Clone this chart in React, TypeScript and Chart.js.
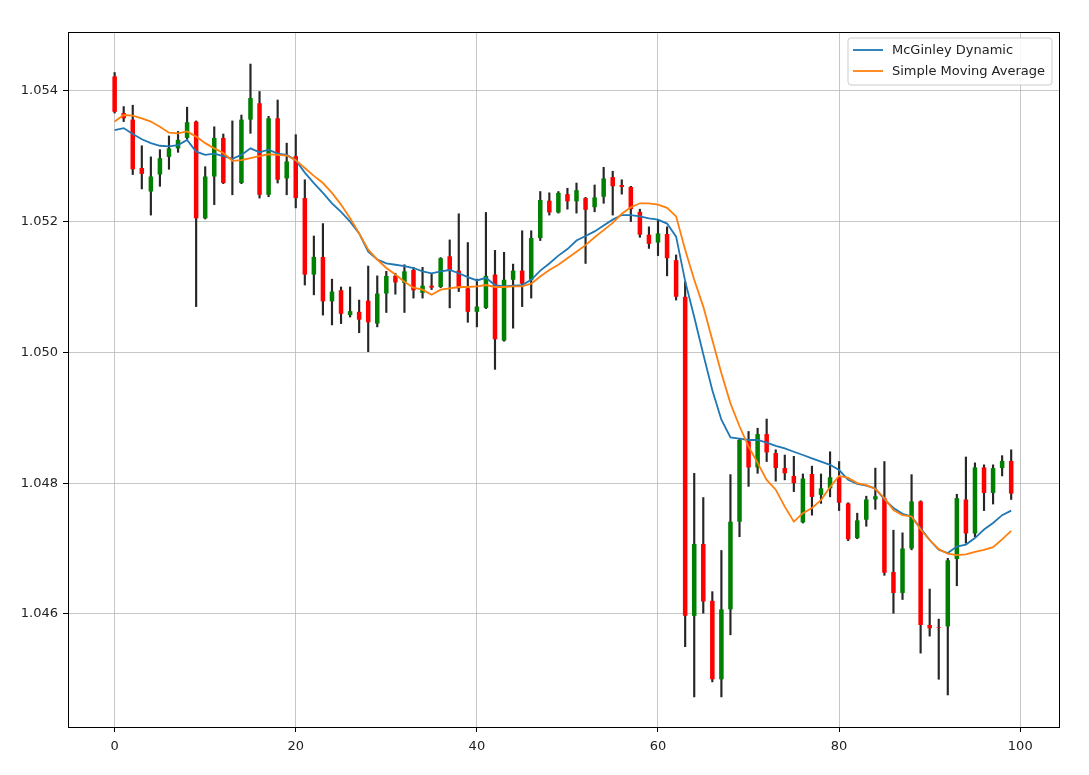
import React, { useEffect, useRef } from 'react';
import { Chart, registerables } from 'chart.js';

Chart.register(...registerables);

// Candle data (price), index 0..99
const opens = [
  1.05422, 1.05366, 1.05356, 1.05282, 1.05246, 1.05272, 1.05299, 1.05312, 1.05328, 1.05353,
  1.05205, 1.05269, 1.05328, 1.05298, 1.05259, 1.05356, 1.05381, 1.05241, 1.05358, 1.05266,
  1.05300, 1.05236, 1.05119, 1.05146, 1.05078, 1.05095, 1.05057, 1.05062, 1.05079, 1.05044,
  1.05090, 1.05117, 1.05106, 1.05126, 1.05091, 1.05102, 1.05100, 1.05147, 1.05125, 1.05098,
  1.05062, 1.05068, 1.05119, 1.05018, 1.05111, 1.05125, 1.05111, 1.05175, 1.05232, 1.05214,
  1.05242, 1.05231, 1.05236, 1.05222, 1.05238, 1.05268, 1.05256, 1.05253, 1.05215, 1.05180,
  1.05168, 1.05181, 1.05141, 1.05085, 1.04597, 1.04707, 1.04620, 1.04500, 1.04607, 1.04741,
  1.04864, 1.04824, 1.04875, 1.04846, 1.04823, 1.04811, 1.04740, 1.04814, 1.04782, 1.04792,
  1.04809, 1.04769, 1.04716, 1.04744, 1.04775, 1.04777, 1.04664, 1.04632, 1.04700, 1.04772,
  1.04583, 1.04580, 1.04581, 1.04684, 1.04775, 1.04723, 1.04824, 1.04785, 1.04823, 1.04834,
];
const closes = [
  1.05368, 1.05358, 1.05280, 1.05273, 1.05269, 1.05297, 1.05312, 1.05325, 1.05352, 1.05205,
  1.05269, 1.05328, 1.05259, 1.05297, 1.05356, 1.05389, 1.05241, 1.05358, 1.05264, 1.05292,
  1.05236, 1.05119, 1.05146, 1.05078, 1.05093, 1.05059, 1.05063, 1.05050, 1.05046, 1.05090,
  1.05117, 1.05107, 1.05124, 1.05095, 1.05102, 1.05099, 1.05144, 1.05125, 1.05098, 1.05062,
  1.05070, 1.05117, 1.05020, 1.05111, 1.05125, 1.05105, 1.05175, 1.05233, 1.05214, 1.05244,
  1.05231, 1.05248, 1.05218, 1.05237, 1.05266, 1.05254, 1.05253, 1.05219, 1.05180, 1.05166,
  1.05182, 1.05144, 1.05085, 1.04597, 1.04707, 1.04619, 1.04500, 1.04607, 1.04741, 1.04866,
  1.04824, 1.04875, 1.04847, 1.04823, 1.04815, 1.04800, 1.04807, 1.04779, 1.04792, 1.04809,
  1.04770, 1.04714, 1.04743, 1.04775, 1.04780, 1.04663, 1.04632, 1.04700, 1.04772, 1.04583,
  1.04578, 1.04579, 1.04682, 1.04777, 1.04723, 1.04824, 1.04785, 1.04823, 1.04834, 1.04784,
];
const highs = [
  1.05428, 1.05376, 1.05378, 1.05316, 1.05299, 1.05310, 1.05331, 1.05338, 1.05375, 1.05354,
  1.05284, 1.05345, 1.05334, 1.05354, 1.05363, 1.05441, 1.05399, 1.05361, 1.05386, 1.05320,
  1.05333, 1.05264, 1.05178, 1.05197, 1.05112, 1.05100, 1.05100, 1.05080, 1.05132, 1.05117,
  1.05124, 1.05121, 1.05134, 1.05130, 1.05130, 1.05121, 1.05145, 1.05172, 1.05212, 1.05168,
  1.05112, 1.05214, 1.05156, 1.05153, 1.05135, 1.05186, 1.05186, 1.05246, 1.05244, 1.05246,
  1.05251, 1.05259, 1.05237, 1.05256, 1.05283, 1.05277, 1.05264, 1.05254, 1.05219, 1.05192,
  1.05202, 1.05192, 1.05149, 1.05108, 1.04815, 1.04778, 1.04634, 1.04697, 1.04813, 1.04867,
  1.04879, 1.04884, 1.04898, 1.04851, 1.04843, 1.04841, 1.04814, 1.04826, 1.04814, 1.04848,
  1.04833, 1.04770, 1.04754, 1.04780, 1.04823, 1.04833, 1.04728, 1.04724, 1.04813, 1.04773,
  1.04638, 1.04592, 1.04685, 1.04783, 1.04840, 1.04831, 1.04828, 1.04828, 1.04842, 1.04851,
];
const lows = [
  1.05366, 1.05353, 1.05272, 1.05250, 1.05210, 1.05254, 1.05280, 1.05306, 1.05326, 1.05070,
  1.05204, 1.05226, 1.05258, 1.05241, 1.05258, 1.05335, 1.05236, 1.05238, 1.05259, 1.05241,
  1.05221, 1.05103, 1.05088, 1.05057, 1.05042, 1.05044, 1.05054, 1.05030, 1.05001, 1.05039,
  1.05061, 1.05089, 1.05061, 1.05083, 1.05083, 1.05096, 1.05099, 1.05068, 1.05093, 1.05046,
  1.05039, 1.05067, 1.04974, 1.05017, 1.05037, 1.05070, 1.05083, 1.05171, 1.05210, 1.05213,
  1.05219, 1.05213, 1.05136, 1.05215, 1.05228, 1.05210, 1.05242, 1.05200, 1.05176, 1.05159,
  1.05148, 1.05117, 1.05080, 1.04550, 1.04473, 1.04601, 1.04496, 1.04473, 1.04568, 1.04718,
  1.04795, 1.04815, 1.04833, 1.04803, 1.04805, 1.04787, 1.04739, 1.04751, 1.04769, 1.04779,
  1.04758, 1.04712, 1.04715, 1.04734, 1.04760, 1.04659, 1.04601, 1.04622, 1.04698, 1.04540,
  1.04566, 1.04500, 1.04476, 1.04643, 1.04708, 1.04718, 1.04758, 1.04768, 1.04811, 1.04775,
];

const mcginley = [
  1.05340, 1.05343, 1.05334, 1.05326, 1.05320, 1.05316, 1.05315, 1.05317, 1.05325, 1.05307,
  1.05302, 1.05304, 1.05300, 1.05296, 1.05302, 1.05312, 1.05306, 1.05310, 1.05304, 1.05302,
  1.05294, 1.05275, 1.05259, 1.05244, 1.05228, 1.05215, 1.05200, 1.05182, 1.05154, 1.05142,
  1.05136, 1.05134, 1.05132, 1.05129, 1.05124, 1.05121, 1.05124, 1.05126, 1.05121, 1.05115,
  1.05110, 1.05114, 1.05103, 1.05101, 1.05102, 1.05103, 1.05111, 1.05125, 1.05136, 1.05148,
  1.05158, 1.05171, 1.05178, 1.05185, 1.05194, 1.05203, 1.05210, 1.05210, 1.05208, 1.05205,
  1.05203, 1.05197, 1.05177, 1.05109, 1.05054, 1.04997, 1.04942, 1.04897, 1.04870, 1.04868,
  1.04866, 1.04866, 1.04862, 1.04857, 1.04853, 1.04848, 1.04843, 1.04838, 1.04833, 1.04828,
  1.04820, 1.04805, 1.04799, 1.04796, 1.04792, 1.04775, 1.04762, 1.04753, 1.04749, 1.04731,
  1.04713, 1.04698, 1.04693, 1.04703, 1.04706, 1.04716, 1.04729, 1.04739, 1.04751, 1.04758,
];
const sma = [
  1.05353, 1.05363, 1.05362, 1.05358, 1.05353, 1.05345, 1.05336, 1.05335, 1.05338, 1.05330,
  1.05320, 1.05312, 1.05305, 1.05293, 1.05294, 1.05297, 1.05300, 1.05303, 1.05302, 1.05301,
  1.05294, 1.05282, 1.05270, 1.05259, 1.05244, 1.05226, 1.05205, 1.05182, 1.05157, 1.05142,
  1.05129, 1.05119, 1.05108, 1.05099, 1.05096, 1.05088, 1.05096, 1.05098, 1.05100, 1.05100,
  1.05101, 1.05103, 1.05100, 1.05100, 1.05101, 1.05101, 1.05105, 1.05116, 1.05126, 1.05134,
  1.05144, 1.05154, 1.05164, 1.05176, 1.05187, 1.05198, 1.05212, 1.05222, 1.05228, 1.05228,
  1.05226, 1.05221, 1.05208, 1.05157, 1.05111, 1.05070, 1.05019, 1.04968, 1.04922, 1.04887,
  1.04856, 1.04831, 1.04805, 1.04790, 1.04764, 1.04741, 1.04754, 1.04762, 1.04774, 1.04794,
  1.04811, 1.04808, 1.04800, 1.04797, 1.04791, 1.04777, 1.04759, 1.04751, 1.04749, 1.04729,
  1.04713, 1.04699, 1.04692, 1.04690, 1.04691, 1.04695, 1.04698, 1.04702, 1.04714, 1.04727,
];

const xTicksStep = 20;
const yTicksStep = 0.002;
const seriesLabels = ['McGinley Dynamic', 'Simple Moving Average'];

const FONT = '"DejaVu Sans", sans-serif';

const framePlugin = {
  id: 'frame',
  afterDatasetsDraw(chart: any) {
    const { ctx, chartArea: a } = chart;
    ctx.save();
    ctx.strokeStyle = '#000';
    ctx.lineWidth = 1;
    ctx.strokeRect(Math.round(a.left) + 0.5, Math.round(a.top) + 0.5,
      Math.round(a.right - a.left), Math.round(a.bottom - a.top));
    ctx.restore();
  },
};

const legendPlugin = {
  id: 'boxLegend',
  afterDraw(chart: any) {
    const { ctx, chartArea: a } = chart;
    const items = chart.data.datasets.filter((d: any) => d.type === 'line');
    ctx.save();
    ctx.font = `13px ${FONT}`;
    const tw = Math.max(...items.map((d: any) => ctx.measureText(d.label).width));
    const rowH = 21;
    const w = 5 + 30 + 9 + tw + 7;
    const h = 12 + rowH * (items.length - 1) + 14;
    const x = a.right - 7 - w;
    const y = a.top + 6;
    const r = 3;
    ctx.beginPath();
    ctx.moveTo(x + r, y);
    ctx.lineTo(x + w - r, y);
    ctx.arcTo(x + w, y, x + w, y + r, r);
    ctx.lineTo(x + w, y + h - r);
    ctx.arcTo(x + w, y + h, x + w - r, y + h, r);
    ctx.lineTo(x + r, y + h);
    ctx.arcTo(x, y + h, x, y + h - r, r);
    ctx.lineTo(x, y + r);
    ctx.arcTo(x, y, x + r, y, r);
    ctx.closePath();
    ctx.fillStyle = 'rgba(255,255,255,0.85)';
    ctx.fill();
    ctx.strokeStyle = '#cccccc';
    ctx.lineWidth = 1;
    ctx.stroke();
    items.forEach((d: any, i: number) => {
      const cy = y + 12 + i * rowH;
      ctx.beginPath();
      ctx.moveTo(x + 5, cy);
      ctx.lineTo(x + 35, cy);
      ctx.strokeStyle = d.borderColor;
      ctx.lineWidth = 1.8;
      ctx.stroke();
      ctx.fillStyle = '#222';
      ctx.textBaseline = 'middle';
      ctx.textAlign = 'left';
      ctx.fillText(d.label, x + 44, cy + 1);
    });
    ctx.restore();
  },
};

export default function App() {
  const ref = useRef<HTMLCanvasElement | null>(null);

  useEffect(() => {
    if (!ref.current) return;
    const idx = opens.map((_, i) => i);
    const bodyColors = idx.map((i) => (closes[i] >= opens[i] ? '#008000' : '#ff0000'));
    const grid = {
      color: '#b8b8b8',
      lineWidth: 0.8,
      tickColor: '#000',
      tickLength: 5,
      tickWidth: 1,
      offset: false,
      drawTicks: true,
    };
    const chart = new Chart(ref.current, {
      type: 'bar',
      data: {
        datasets: [
          {
            type: 'line',
            label: seriesLabels[0],
            data: mcginley.map((v, i) => ({ x: i, y: v })),
            borderColor: '#1f77b4',
            backgroundColor: '#1f77b4',
            borderWidth: 1.8,
            pointRadius: 0,
            tension: 0,
            order: 1,
          },
          {
            type: 'line',
            label: seriesLabels[1],
            data: sma.map((v, i) => ({ x: i, y: v })),
            borderColor: '#ff7f0e',
            backgroundColor: '#ff7f0e',
            borderWidth: 1.8,
            pointRadius: 0,
            tension: 0,
            order: 0,
          },
          {
            type: 'bar',
            label: 'body',
            data: idx.map((i) => ({ x: i, y: [opens[i], closes[i]] })),
            backgroundColor: bodyColors,
            borderWidth: 0,
            grouped: false,
            categoryPercentage: 1,
            barPercentage: 0.5,
            order: 2,
          },
          {
            type: 'bar',
            label: 'wick',
            data: idx.map((i) => ({ x: i, y: [lows[i], highs[i]] })),
            backgroundColor: '#262626',
            borderWidth: 0,
            grouped: false,
            barThickness: 1.5,
            order: 3,
          },
        ] as any,
      },
      options: {
        responsive: false,
        animation: false,
        events: [],
        layout: { padding: { left: 8, right: 30, top: 32, bottom: 18 } },
        plugins: { legend: { display: false }, tooltip: { enabled: false } },
        scales: {
          x: {
            type: 'linear',
            min: -5.15,
            max: 104.28,
            offset: false,
            grid,
            border: { display: false },
            ticks: {
              stepSize: xTicksStep,
              includeBounds: false,
              padding: 7,
              color: '#222',
              font: { family: FONT, size: 13 },
              maxRotation: 0,
              autoSkip: false,
            },
            afterFit: (s: any) => { s.height = 30; },
          },
          y: {
            type: 'linear',
            min: 1.04427,
            max: 1.0549,
            grid,
            border: { display: false },
            ticks: {
              stepSize: yTicksStep,
              includeBounds: false,
              padding: 5,
              color: '#222',
              font: { family: FONT, size: 13 },
              callback: (v: any) => Number(v).toFixed(3),
            },
            afterFit: (s: any) => { s.width = 60; },
          },
        } as any,
      },
      plugins: [framePlugin, legendPlugin],
    } as any);
    return () => chart.destroy();
  }, []);

  return (
    <div style={{ position: 'fixed', left: 0, top: 0, width: 1089, height: 775, background: '#fff' }}>
      <canvas ref={ref} width={1089} height={775} style={{ display: 'block' }} />
    </div>
  );
}
